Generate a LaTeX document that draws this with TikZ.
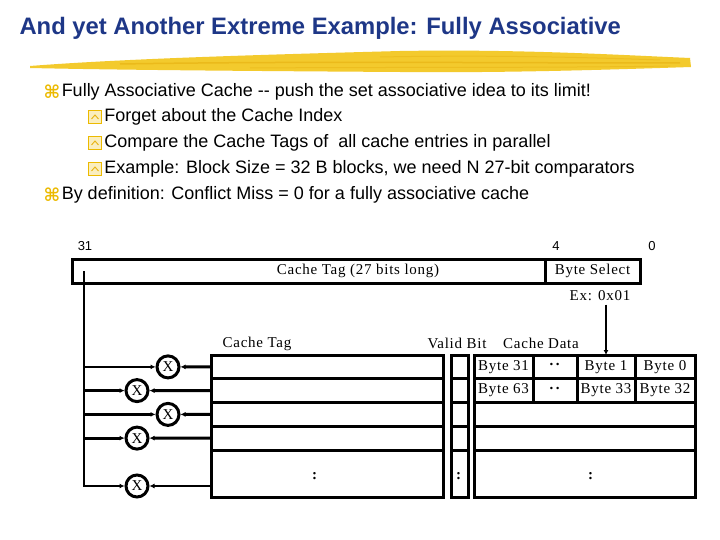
\documentclass[tikz,border=0pt]{standalone}
\usepackage{fontspec}
\setmainfont{Liberation Serif}[LetterSpace=5]
\setsansfont{Liberation Sans}
\newfontfamily\symfont{DejaVu Sans}
\usepackage{tikz}
\usetikzlibrary{positioning,arrows.meta}
\definecolor{titleblue}{RGB}{30,55,135}
\definecolor{brushyellow}{RGB}{243,202,45}
\definecolor{brushdark}{RGB}{232,180,20}
\definecolor{bulletyellow}{RGB}{236,186,0}

\begin{document}
\begin{tikzpicture}[x=1pt, y=-1pt,
  wire/.style={line width=2.8pt},
  arr/.style={-{Latex[length=5pt,width=5pt]}},
  cell/.style={draw, line width=3pt, outer sep=0pt, inner sep=0pt, anchor=north west, minimum height=23.75pt, font=\fontsize{15}{17}\selectfont},
  cmp/.style={draw, circle, line width=3pt, minimum size=22pt, inner sep=0pt, font=\fontsize{15}{15}\selectfont},
  lbl/.style={font=\fontsize{15}{17}\selectfont},
  bitno/.style={font=\sffamily\fontsize{13}{15}\selectfont},
  body/.style={anchor=west, font=\sffamily\fontsize{18}{21}\selectfont, inner sep=0pt},
  bul/.style={text=bulletyellow, font=\symfont\bfseries\fontsize{18}{18}\selectfont, inner sep=0pt},
  boxbul/.style={draw=bulletyellow, fill=bulletyellow!25, line width=1.3pt, minimum size=13pt, inner sep=0pt},
]
\useasboundingbox (0,0) rectangle (720,540);
\fill[white] (0,0) rectangle (720,540);

% title and brush stroke
\node[anchor=west, font=\sffamily\bfseries\fontsize{23.8}{28}\selectfont, text=titleblue] (title) at (16,28) {And yet Another Extreme Example: Fully Associative};
\fill[brushyellow] (30,66) .. controls (120,59) and (250,55) .. (400,51) .. controls (520,49) and (620,55) .. (690,58) -- (691,67) .. controls (600,70) and (500,73) .. (400,72) .. controls (250,71) and (120,70) .. (30,68) -- cycle;
\draw[brushdark, line width=1.5pt, opacity=.7] (120,64) .. controls (300,61) and (500,63) .. (680,63);
\draw[brushdark, line width=1pt, opacity=.5] (250,68) .. controls (400,67) and (550,68) .. (670,66);
\draw[brushdark, line width=1pt, opacity=.5] (380,57) .. controls (480,55) and (580,57) .. (660,60);

% bullets
\node[bul] (m1) at (52,92) {⌘};
\node[body, right=1pt of m1] (t1) {Fully Associative Cache -{}- push the set associative idea to its limit!};
\foreach \y/\name/\txt in {117/s1/{Forget about the Cache Index}, 143/s2/{Compare the Cache Tags of\ \ all cache entries in parallel}, 169/s3/{Example: Block Size = 32 B blocks, we need N 27-bit comparators}} {
  \node[boxbul] (\name) at (95,\y) {};
  \draw[brushdark, line width=0.9pt] ([xshift=-3.5pt,yshift=-2pt]\name.center) -- ([yshift=2pt]\name.center) -- ([xshift=3.5pt,yshift=-2pt]\name.center);
  \node[body, right=2pt of \name] (\name txt) {\txt};
}
\node[bul] (m2) at (52,195) {⌘};
\node[body, right=1pt of m2] (t5) {By definition: Conflict Miss = 0 for a fully associative cache};

% address
\node[bitno] (b31) at (85,246) {31};
\node[bitno] (b4) at (556,246) {4};
\node[bitno] (b0) at (652,246) {0};
\node[cell, minimum width=473pt, minimum height=24pt] (tagfield) at (72,259) {};
\node[cell, minimum width=95pt, minimum height=24pt, right=0pt of tagfield] (bytesel) {Byte Select};
\node[lbl] (tagtxt) at (358,271) {Cache Tag (27 bits long)};
\node[lbl] (ex) at (600,296) {Ex: 0x01};

% cache
\node[lbl] (taghead) at (257,344) {Cache Tag};
\node[lbl] (validhead) at (457,343) {Valid Bit};
\node[lbl] (datahead) at (541,343) {Cache Data};
\foreach \r in {1,...,4} {
  \node[cell, minimum width=232pt] (tag\r) at (211,{355+23.75*(\r-1)}) {};
  \node[cell, minimum width=17pt] (vld\r) at (451,{355+23.75*(\r-1)}) {};
}
\node[cell, minimum width=232pt, minimum height=47pt] (tag5) at (211,450) {};
\node[cell, minimum width=17pt, minimum height=47pt] (vld5) at (451,450) {};
\foreach \r/\hi/\a/\b in {1/31/1/0, 2/63/33/32} {
  \node[cell, minimum width=59pt] (dhi\r) at (474,{355+23.75*(\r-1)}) {Byte \hi};
  \node[cell, minimum width=44pt, right=0pt of dhi\r] (ddot\r) {\raisebox{4pt}{\textbf{.\,.}}};
  \node[cell, minimum width=58pt, right=0pt of ddot\r] (da\r) {Byte \a};
  \node[cell, minimum width=60pt, right=0pt of da\r] (db\r) {Byte \b};
}
\foreach \r in {3,4} \node[cell, minimum width=221pt] (drow\r) at (474,{355+23.75*(\r-1)}) {};
\node[cell, minimum width=221pt, minimum height=47pt] (drow5) at (474,450) {};
\node[lbl] (tagdots) at (315,476) {\textbf{:}};
\node[lbl] (vlddots) at (459,476) {\textbf{:}};
\node[lbl] (datadots) at (591,476) {\textbf{:}};

% comparators
\foreach \i/\x/\y in {1/168/366.9, 2/137/390.6, 3/168/414.4, 4/137/438.1, 5/137/486}
  \node[cmp] (cmp\i) at (\x,\y) {X};
\coordinate (bustop) at (84,271);
\draw[wire, arr] (bustop) |- (cmp5.west);
\foreach \i in {1,...,4} \draw[wire, arr] (bustop |- cmp\i) -- (cmp\i.west);
\foreach \i in {1,...,4} \draw[wire, arr] (tag\i.west) -- (cmp\i.east);
\draw[wire, arr] (tag5.west |- cmp5) -- (cmp5.east);
\draw[wire, arr] (da1.north |- ex.south) -- (da1.north);
\end{tikzpicture}
\end{document}
